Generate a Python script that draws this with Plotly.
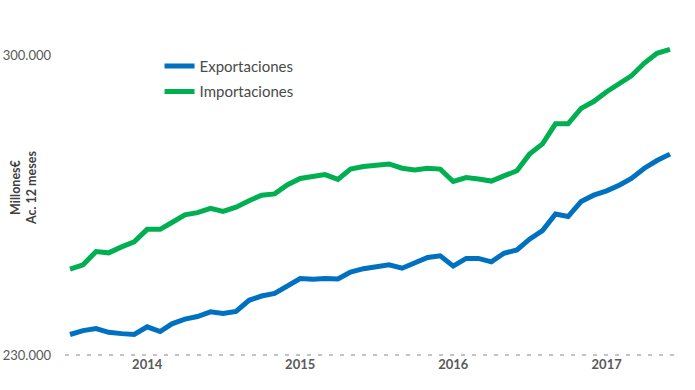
import pandas as pd
import plotly.graph_objects as go

months = pd.date_range("2013-07-01", "2017-06-01", freq="MS")

exportaciones = [
    234800, 235700, 236200, 235300, 235000, 234800, 236600, 235500, 237300, 238400,
    239000, 240100, 239700, 240200, 242800, 243800, 244400, 246000, 247900, 247700,
    247900, 247800, 249400, 250200, 250700, 251100, 250300, 251600, 252800, 253200,
    250800, 252600, 252600, 251800, 253800, 254600, 257100, 259100, 263000, 262400,
    265900, 267400, 268400, 269800, 271300, 273700, 275500, 277000,
]
importaciones = [
    250100, 251100, 254200, 253900, 255300, 256500, 259400, 259400, 261000, 262800,
    263300, 264300, 263600, 264600, 266100, 267400, 267700, 269800, 271300, 271700,
    272200, 271100, 273500, 274100, 274500, 274700, 273700, 273300, 273700, 273500,
    270600, 271500, 271200, 270700, 271900, 273100, 277000, 279400, 284100, 284100,
    287700, 289300, 291600, 293700, 295300, 298300, 300600, 301500,
]
year_ticks = ["2014-01-01", "2015-01-01", "2016-01-01", "2017-01-01"]
year_labels = ["2014", "2015", "2016", "2017"]
y_ticks = [230000, 300000]

FONT = "Lato"
GRAY = "#595959"

fig = go.Figure()
fig.add_trace(go.Scatter(
    x=months, y=exportaciones, mode="lines", name="Exportaciones",
    line=dict(color="#0070C0", width=5), legendgroup="a", cliponaxis=False,
))
fig.add_trace(go.Scatter(
    x=months, y=importaciones, mode="lines", name="Importaciones",
    line=dict(color="#00B050", width=5), legendgroup="b", cliponaxis=False,
))

# dotted baseline at the bottom of the value axis (230.000)
fig.add_shape(type="line", xref="paper", yref="paper", x0=0, x1=1, y0=0, y1=0,
              line=dict(color="#B0B0B0", width=1.5, dash="4px,7px"), layer="above")

fig.update_layout(
    width=695, height=390,
    margin=dict(l=65, r=20, t=43, b=35, autoexpand=False),
    paper_bgcolor="white", plot_bgcolor="white",
    separators=",.",
    font=dict(family=FONT, color=GRAY, size=13),
    showlegend=True,
    legend=dict(x=0.155, y=0.978, xanchor="left", yanchor="top",
                bgcolor="rgba(0,0,0,0)", traceorder="grouped",
                tracegroupgap=3, font=dict(size=15, color="#4a4a4a", family=FONT)),
    xaxis=dict(
        type="date", automargin=False,
        range=["2013-06-19", "2017-06-13"],
        tickvals=year_ticks, ticktext=["<b>%s</b>" % t for t in year_labels],
        showgrid=False, zeroline=False, showline=False, ticks="",
        tickfont=dict(size=13, color=GRAY, family=FONT),
    ),
    yaxis=dict(
        automargin=False,
        range=[230000, 303000],
        tickvals=y_ticks, tickformat=",d",
        showgrid=False, zeroline=False, showline=False, ticks="",
        ticklabelstandoff=13,
        tickfont=dict(size=13, color=GRAY, family=FONT),
    ),
)

fig.add_annotation(
    xref="paper", yref="paper", x=-0.069, y=0.535,
    text="<b>Millones€</b><br><b>Ac. 12 meses</b>", textangle=-90,
    showarrow=False, xanchor="center", yanchor="middle",
    font=dict(size=12.5, color="#404040", family=FONT),
)

fig.write_html("out.html")
